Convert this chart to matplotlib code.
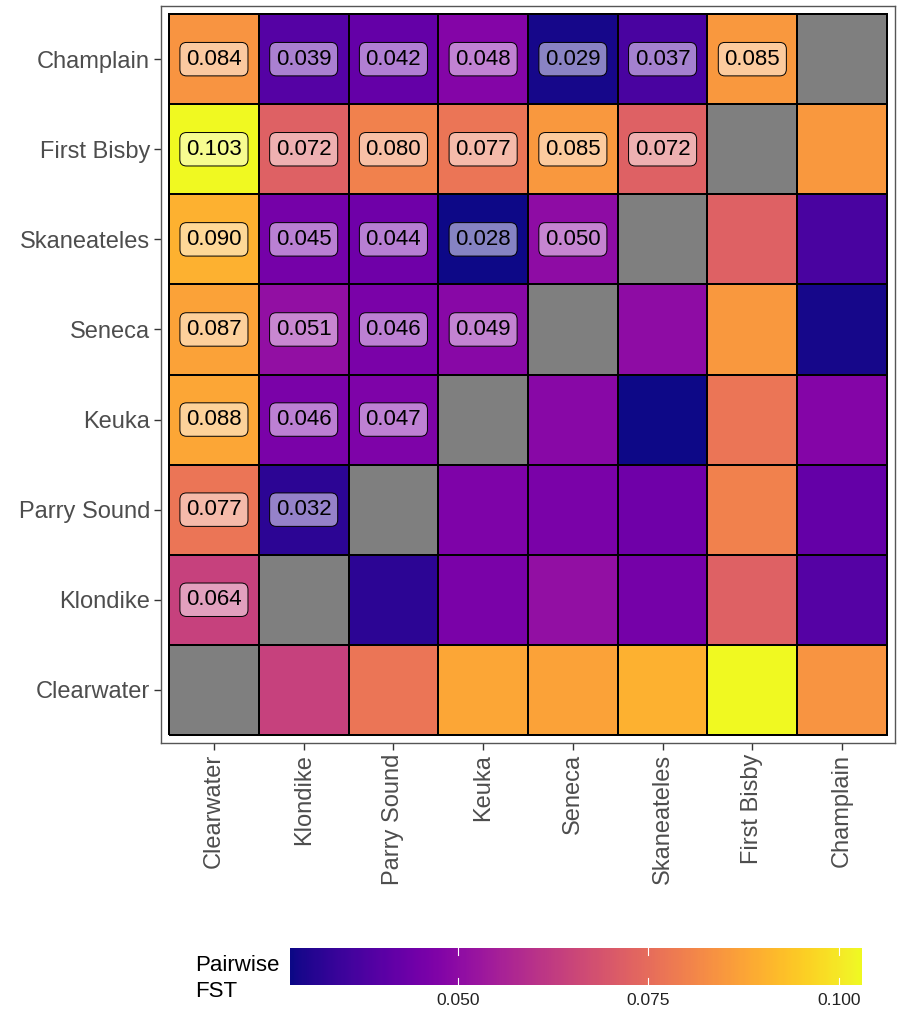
import numpy as np
import matplotlib.pyplot as plt
from matplotlib import colors

plt.rcParams['font.family'] = ['Liberation Sans', 'DejaVu Sans']

names = ['Clearwater', 'Klondike', 'Parry Sound', 'Keuka', 'Seneca',
         'Skaneateles', 'First Bisby', 'Champlain']

# pairwise FST, row i vs columns 0..i-1
fst_rows = [
    [],
    [0.064],
    [0.077, 0.032],
    [0.088, 0.046, 0.047],
    [0.087, 0.051, 0.046, 0.049],
    [0.090, 0.045, 0.044, 0.028, 0.050],
    [0.103, 0.072, 0.080, 0.077, 0.085, 0.072],
    [0.084, 0.039, 0.042, 0.048, 0.029, 0.037, 0.085],
]
cbar_ticks = [0.050, 0.075, 0.100]

n = len(names)
M = np.full((n, n), np.nan)
for i, row in enumerate(fst_rows):
    for j, v in enumerate(row):
        M[i, j] = v
        M[j, i] = v

vmin, vmax = 0.028, 0.103
cmap = plt.get_cmap('plasma').copy()
cmap.set_bad('#7f7f7f')
norm = colors.Normalize(vmin=vmin, vmax=vmax)

fig = plt.figure(figsize=(8.98, 10.11), dpi=100)
ax = fig.add_axes([161/898, (1011-743)/1011, 734/898, 737/1011])

edges = np.arange(n + 1) - 0.5
ax.pcolormesh(edges, edges, np.ma.masked_invalid(M), cmap=cmap, norm=norm,
              edgecolors='black', linewidth=1.4)

for i, row in enumerate(fst_rows):
    for j, v in enumerate(row):
        ax.text(j, i, f"{v:.3f}", ha='center', va='center', fontsize=16,
                color='black',
                bbox=dict(boxstyle='round,pad=0.28,rounding_size=0.3',
                          fc=(1, 1, 1, 0.5), ec='black', lw=0.7))

m = 0.09
ax.set_xlim(-0.5 - m, n - 0.5 + m)
ax.set_ylim(-0.5 - m, n - 0.5 + m)
ax.set_xticks(range(n))
ax.set_yticks(range(n))
ax.set_xticklabels(names, rotation=90, fontsize=17, color='#4d4d4d')
ax.set_yticklabels(names, fontsize=17, color='#4d4d4d')
ax.tick_params(length=5, width=1, color='#333333', pad=3)
for s in ax.spines.values():
    s.set_color('#555555')
    s.set_linewidth(1)

# colourbar
cax = fig.add_axes([290/898, (1011-985)/1011, 572/898, 37/1011])
grad = np.linspace(vmin, vmax, 300).reshape(1, -1)
cax.imshow(grad, aspect='auto', cmap=cmap, norm=norm,
           extent=[vmin, vmax, 0, 1])
for t in cbar_ticks:
    cax.plot([t, t], [0, 0.2], color='white', lw=0.8)
    cax.plot([t, t], [0.8, 1], color='white', lw=0.8)
cax.set_xlim(vmin, vmax)
cax.set_ylim(0, 1)
cax.set_yticks([])
cax.set_xticks(cbar_ticks)
cax.set_xticklabels([f"{t:.3f}" for t in cbar_ticks], fontsize=12.5, color='#222222')
cax.tick_params(axis='x', length=0, pad=6)
for s in cax.spines.values():
    s.set_visible(False)

fig.text(195/898, 1 - 955/1011, "Pairwise\nFST", ha='left', va='top',
         fontsize=16, color='black', linespacing=1.3)

fig.savefig('out.png', dpi=100)
